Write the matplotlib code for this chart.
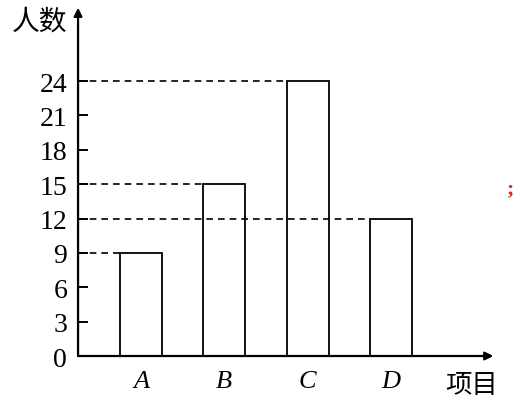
import matplotlib.pyplot as plt

plt.rcParams['font.family'] = ['Liberation Serif', 'DejaVu Serif']

# data
categories = ['A', 'B', 'C', 'D']
counts = [9, 15, 24, 12]
y_ticks = [0, 3, 6, 9, 12, 15, 18, 21, 24]

cjk = ['Noto Sans CJK SC', 'DejaVu Sans']

fig = plt.figure(figsize=(5.23, 4.06), dpi=100)
ax = fig.add_axes([0, 0, 1, 1])
ax.set_xlim(-1.693, 4.586)
ax.set_ylim(-4.276, 31.16)
ax.axis('off')

x0 = -0.756      # where the y axis sits
bar_w = 0.504
pos = list(range(len(categories)))

# bars
ax.bar(pos, counts, width=bar_w, facecolor='white', edgecolor='black',
       linewidth=1.3, zorder=3)

# dashed guide lines from the axis to each bar's left edge (drawn over bars)
for p, c in zip(pos, counts):
    ax.plot([x0, p - bar_w / 2], [c, c], color='black', linestyle=(0, (4, 3)),
            linewidth=1.2, zorder=4)

# axes with arrows
ax.annotate('', xy=(x0, 30.4), xytext=(x0, 0),
            arrowprops=dict(arrowstyle='-|>', color='black', lw=1.6,
                            mutation_scale=12, shrinkA=0, shrinkB=0))
ax.annotate('', xy=(4.23, 0), xytext=(x0, 0),
            arrowprops=dict(arrowstyle='-|>', color='black', lw=1.6,
                            mutation_scale=12, shrinkA=0, shrinkB=0))

# y ticks and labels
for t in y_ticks:
    if t > 0:
        ax.plot([x0, x0 + 0.11], [t, t], color='black', linewidth=1.4)
    ax.text(x0 - 0.13, t, str(t), ha='right', va='center_baseline', fontsize=20)

# category labels
for p, name in zip(pos, categories):
    ax.text(p, -2.0, name, ha='center', va='center_baseline', fontsize=19,
            style='italic')

# axis titles
ax.text(-1.22, 29.25, '人数', ha='center', va='center', fontsize=20, family=cjk)
ax.text(3.97, -2.5, '项目', ha='center', va='center', fontsize=19, family=cjk)

# stray red semicolon in the source image
fig.text(511 / 523, 1 - 189 / 406, ';', color='#d42a2a', fontsize=16,
         fontweight='bold', ha='center', va='center')

fig.savefig('out.png', dpi=100)
